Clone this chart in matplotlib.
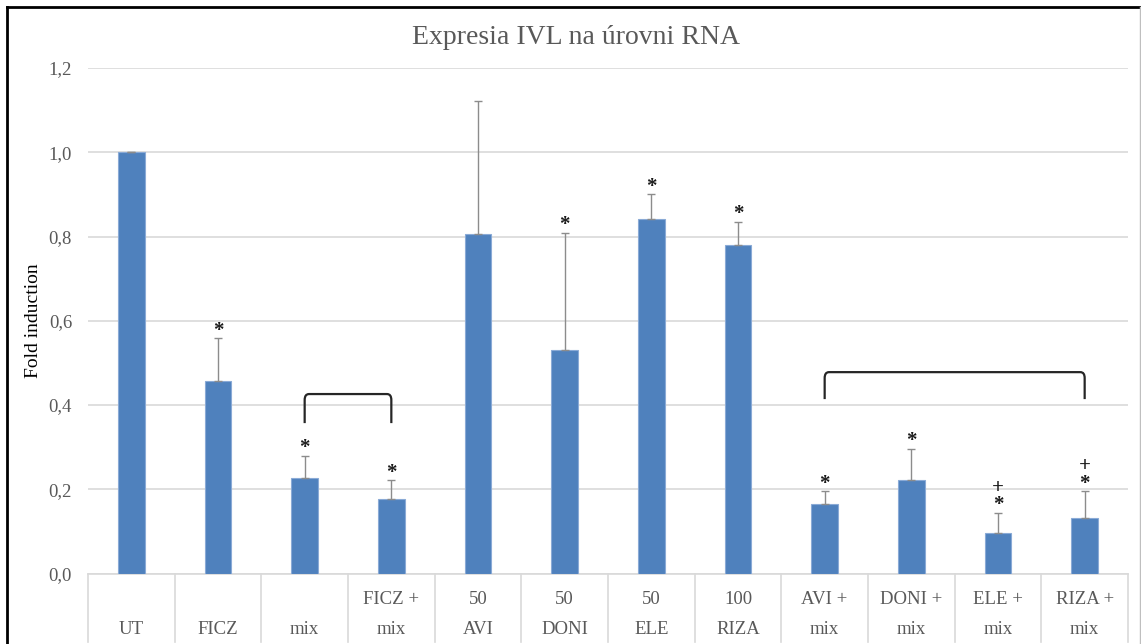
import matplotlib
matplotlib.use("Agg")
import matplotlib.pyplot as plt
from matplotlib.path import Path
from matplotlib.patches import PathPatch
import matplotlib.transforms as mtransforms
from matplotlib.lines import Line2D

# ---- data ----
cat_line1 = ["", "", "", "FICZ +", "50", "50", "50", "100", "AVI +", "DONI +", "ELE +", "RIZA +"]
cat_line2 = ["UT", "FICZ", "mix", "mix", "AVI", "DONI", "ELE", "RIZA", "mix", "mix", "mix", "mix"]
values = [1.0, 0.458, 0.226, 0.178, 0.805, 0.530, 0.841, 0.779, 0.164, 0.221, 0.095, 0.131]
err_upper = [0.0, 0.100, 0.054, 0.043, 0.316, 0.278, 0.059, 0.055, 0.031, 0.074, 0.048, 0.064]
sig_marks = ["", "*", "*", "*", "", "*", "*", "*", "*", "*", "+\n*", "+\n*"]
brackets = [(2, 3, 0.357, 0.426), (8, 11, 0.414, 0.478)]
yticks = [0.0, 0.2, 0.4, 0.6, 0.8, 1.0, 1.2]
ytick_labels = ["0,0", "0,2", "0,4", "0,6", "0,8", "1,0", "1,2"]
title = "Expresia IVL na úrovni RNA"
ylabel = "Fold induction"

W, H = 1141, 644
fig = plt.figure(figsize=(W / 100, H / 100), dpi=100)
plt.rcParams['font.family'] = ['Liberation Serif', 'DejaVu Serif']

left, right, top, bottom = 88, 1128, 68, 573.5
ax = fig.add_axes([left / W, 1 - bottom / H, (right - left) / W, (bottom - top) / H])

x = list(range(len(values)))
grey_txt = "#595959"
grid_c = "#D9D9D9"

ax.set_xlim(-0.5, len(values) - 0.5)
ax.set_ylim(0, 1.2)
ax.set_yticks(yticks)
ax.set_yticklabels(ytick_labels, color=grey_txt, fontsize=13.5)
ax.tick_params(axis='y', length=0, pad=11.5)
ax.set_xticks([])
for s in ["top", "right", "left"]:
    ax.spines[s].set_visible(False)
ax.spines["bottom"].set_color(grid_c)
ax.spines["bottom"].set_linewidth(1.2)
ax.yaxis.grid(True, color=grid_c, linewidth=1.2)
ax.set_axisbelow(True)

ax.bar(x, values, width=0.31, color="#4F81BD", edgecolor="#8AAAD6", linewidth=0.8, zorder=3)
ax.errorbar(x, values, yerr=[[0] * len(values), err_upper], fmt="none",
            ecolor="#8C8C8C", elinewidth=1.0, capsize=3.2, capthick=1.0, zorder=4)

# significance marks
for xi, v, e, m in zip(x, values, err_upper, sig_marks):
    if m:
        ax.annotate(m, (xi, v + e), xytext=(0, -1.6), textcoords="offset points",
                    ha="center", va="bottom", fontsize=15, fontweight="bold",
                    linespacing=0.82, color="#1a1a1a")

# brackets with rounded corners
rx, ry = 0.05, 0.014
for a, b, yb, yt in brackets:
    verts = [(a, yb), (a, yt - ry), (a, yt), (a + rx, yt), (b - rx, yt), (b, yt), (b, yt - ry), (b, yb)]
    codes = [Path.MOVETO, Path.LINETO, Path.CURVE3, Path.CURVE3, Path.LINETO, Path.CURVE3, Path.CURVE3, Path.LINETO]
    ax.add_patch(PathPatch(Path(verts, codes), fill=False, edgecolor="#262626", linewidth=1.6, zorder=5))

# category table
xt = ax.get_xaxis_transform()
for k in range(len(values) + 1):
    ax.add_line(Line2D([k - 0.5, k - 0.5], [0, -0.135], transform=xt, color=grid_c,
                       linewidth=1.2, clip_on=False))
bt = mtransforms.blended_transform_factory(ax.transData, fig.transFigure)
for xi, l1, l2 in zip(x, cat_line1, cat_line2):
    if l1:
        ax.text(xi, 1 - 600 / H, l1, transform=bt, ha="center", va="center", fontsize=13.5, color=grey_txt)
    ax.text(xi, 1 - 630 / H, l2, transform=bt, ha="center", va="center", fontsize=13.5, color=grey_txt)

fig.text(576 / W, 1 - 38 / H, title, ha="center", va="center", fontsize=20, color=grey_txt)
fig.text(33 / W, 1 - 321 / H, ylabel, ha="center", va="center", rotation=90, fontsize=14, color="black")

# outer frame
fig.add_artist(Line2D([7 / W, 7 / W], [0, 1 - 7 / H], transform=fig.transFigure, color="black", linewidth=2))
fig.add_artist(Line2D([7 / W, 1], [1 - 7 / H, 1 - 7 / H], transform=fig.transFigure, color="black", linewidth=2))
fig.add_artist(Line2D([1139.5 / W, 1139.5 / W], [0, 1 - 7 / H], transform=fig.transFigure, color="#BFBFBF", linewidth=1))

fig.savefig("out.png", dpi=100)
